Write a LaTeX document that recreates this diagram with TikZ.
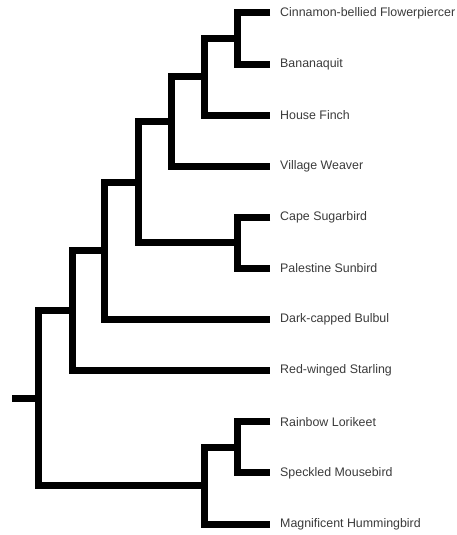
\documentclass[tikz,border=0pt]{standalone}
\usepackage{fontspec}
\setmainfont{Liberation Sans}
\definecolor{labelgray}{HTML}{3A3A3A}
\begin{document}
\begin{tikzpicture}[x=1pt,y=-1pt,
  branch/.style={line width=7pt, line join=miter, line cap=butt, black},
  leaf/.style={anchor=west, inner sep=0pt, text=labelgray, font=\fontsize{12.4}{14}\selectfont}]
\useasboundingbox (0,0) rectangle (457,535);
% leaf tips
\coordinate (t1) at (270,13);
\coordinate (t2) at (270,64.1);
\coordinate (t3) at (270,115.2);
\coordinate (t4) at (270,166.3);
\coordinate (t5) at (270,217.4);
\coordinate (t6) at (270,268.5);
\coordinate (t7) at (270,319.6);
\coordinate (t8) at (270,370.7);
\coordinate (t9) at (270,421.8);
\coordinate (t10) at (270,472.9);
\coordinate (t11) at (270,524);
% labels
\node[leaf] (l1) at (280,13) {Cinnamon-bellied Flowerpiercer};
\node[leaf] (l2) at (280,64.1) {Bananaquit};
\node[leaf] (l3) at (280,115.2) {House Finch};
\node[leaf] (l4) at (280,166.3) {Village Weaver};
\node[leaf] (l5) at (280,217.4) {Cape Sugarbird};
\node[leaf] (l6) at (280,268.5) {Palestine Sunbird};
\node[leaf] (l7) at (280,319.6) {Dark-capped Bulbul};
\node[leaf] (l8) at (280,370.7) {Red-winged Starling};
\node[leaf] (l9) at (280,421.8) {Rainbow Lorikeet};
\node[leaf] (l10) at (280,472.9) {Speckled Mousebird};
\node[leaf] (l11) at (280,524) {Magnificent Hummingbird};
% internal nodes
\coordinate (n1) at (237,38.55);
\coordinate (n2) at (204,76.875);
\coordinate (n3) at (171,121.59);
\coordinate (n4) at (237,242.95);
\coordinate (n5) at (138,182.27);
\coordinate (n6) at (104,250.93);
\coordinate (n7) at (72,310.82);
\coordinate (n8) at (237,447.35);
\coordinate (n9) at (204,485.68);
\coordinate (root) at (38,398.25);
\coordinate (stub) at (12,398.25);
% branches
\draw[branch] (t1) -| (n1) |- (t2);
\draw[branch] (n1) -| (n2) |- (t3);
\draw[branch] (n2) -| (n3) |- (t4);
\draw[branch] (t5) -| (n4) |- (t6);
\draw[branch] (n3) -| (n5) |- (n4);
\draw[branch] (n5) -| (n6) |- (t7);
\draw[branch] (n6) -| (n7) |- (t8);
\draw[branch] (t9) -| (n8) |- (t10);
\draw[branch] (n8) -| (n9) |- (t11);
\draw[branch] (n7) -| (root) |- (n9);
\draw[branch] (stub) -- (root);
\end{tikzpicture}
\end{document}
